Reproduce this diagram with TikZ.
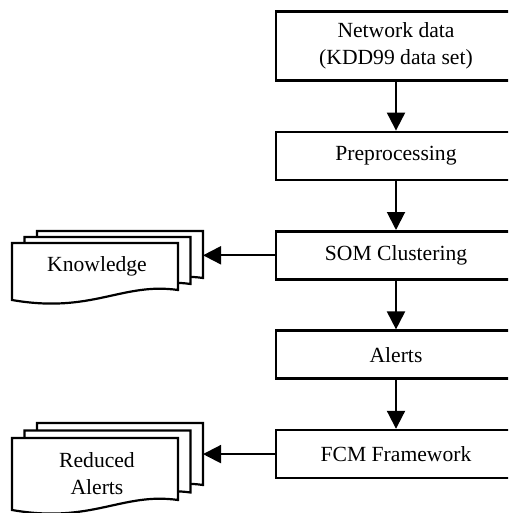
\documentclass[tikz,border=0pt]{standalone}
\usepackage{fontspec}
\setmainfont{Liberation Serif}
\usetikzlibrary{arrows.meta,positioning,calc,backgrounds}
\tikzset{
  box/.style={draw, line width=1.3pt, minimum width=120pt, minimum height=24pt, align=center, font=\fontsize{10.8}{13.5}\selectfont, inner sep=2pt},
  txt/.style={align=center, font=\fontsize{10.8}{13.5}\selectfont, inner sep=0pt},
  arr/.style={-{Triangle[length=9pt,width=9pt]}, line width=1pt},
  page/.style={draw, fill=white, line width=1.1pt, line join=miter},
  pics/docpage/.style={code={
    \draw[page] (0,0) -- (166,0) -- (166,#1) .. controls (110,#1-8) and (80,#1+24) .. (0,#1+10) -- cycle;}},
}
\begin{document}
\begin{tikzpicture}[x=0.5pt,y=-0.5pt, node distance=24.4pt]
  \useasboundingbox (0,0) rectangle (508,513);
  \clip (0,0) rectangle (508,513);
  % main chain
  \node[box, minimum height=34.5pt] (net) at (396,46) {Network data\\(KDD99 data set)};
  \node[box, below=of net] (pre) {Preprocessing};
  \node[box, below=of pre] (som) {SOM Clustering};
  \node[box, below=of som] (alr) {Alerts};
  \node[box, below=of alr] (fcm) {FCM Framework};
  % document stacks
  \node[txt] (kno) at (97,266) {Knowledge};
  \node[txt] (red) at (97,474) {Reduced\\Alerts};
  \begin{scope}[on background layer]
    \foreach \k in {2,1,0} {
      \pic at ($(kno)+(-85+12.5*\k,-23-6*\k)$) {docpage=47};
      \pic at ($(red)+(-85+12.5*\k,-36-7.5*\k)$) {docpage=62};
    }
  \end{scope}
  \coordinate (kend) at ($(kno)+(106,0)$);
  \coordinate (rend) at ($(red)+(106,0)$);
  % arrows
  \draw[arr] (net) -- (pre);
  \draw[arr] (pre) -- (som);
  \draw[arr] (som) -- (alr);
  \draw[arr] (alr) -- (fcm);
  \draw[arr] (som.west) -- (som.west -| kend);
  \draw[arr] (fcm.west) -- (fcm.west -| rend);
\end{tikzpicture}
\end{document}
